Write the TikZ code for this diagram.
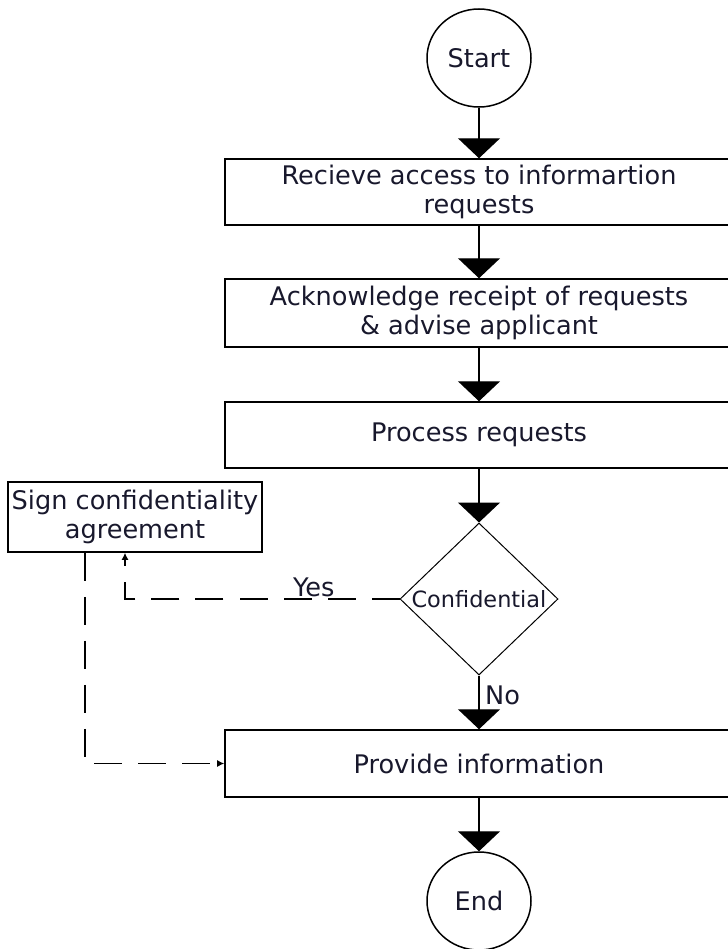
\documentclass[tikz,border=0pt]{standalone}
\usepackage{fontspec}
\setmainfont{DejaVu Sans}
\usetikzlibrary{arrows.meta,shapes.geometric}
\definecolor{ink}{RGB}{24,24,44}
\begin{document}
\begin{tikzpicture}[x=1bp,y=-1bp,
  font=\fontsize{25.6bp}{29bp}\selectfont,
  every node/.style={text=ink},
  proc/.style={draw, line width=1.5bp, minimum width=508bp, inner sep=0pt, align=center},
  term/.style={draw, ellipse, line width=1.5bp, minimum width=104bp, minimum height=98bp, inner sep=0pt},
  decide/.style={draw, diamond, line width=1bp, aspect=1.04, minimum width=158bp, minimum height=152bp, inner sep=0pt, font=\fontsize{22.4bp}{26bp}\selectfont},
  flow/.style={line width=1.3bp, -{Triangle[width=42bp,length=20bp]}},
  optional/.style={line width=1.5bp, dash pattern=on 28bp off 16bp, -{Latex[length=7bp,width=7bp]}}]
\useasboundingbox (0,0) rectangle (728,949);

% terminals
\node[term] (start) at (479,58) {Start};
\node[term] (end) at (479,901) {End};

% process steps
\node[proc, minimum height=66bp] (recv) at (479,192) {Recieve access to informartion\\requests};
\node[proc, minimum height=68bp] (ack) at (479,313) {Acknowledge receipt of requests\\\& advise applicant};
\node[proc, minimum height=66bp] (proc) at (479,435) {Process requests};
\node[decide] (conf) at (479,599) {Confidential};
\node[proc, minimum height=67bp] (provide) at (479,763.5) {Provide information};
\node[draw, line width=1.5bp, minimum width=254bp, minimum height=70bp, inner sep=0pt, align=center] (sign) at (135,517) {Sign confidentiality\\agreement};

% main flow
\draw[flow] (start) -- (recv);
\draw[flow] (recv) -- (ack);
\draw[flow] (ack) -- (proc);
\draw[flow] (proc) -- (conf);
\draw[flow] (conf) -- (provide);
\draw[flow] (provide) -- (end);

% branch labels
\node[anchor=base west, inner sep=0pt] (yes) at (293,596) {Yes};
\node[anchor=base west, inner sep=0pt] (no) at (485,704) {No};

% confidential branch
\draw[optional] (conf.west) -| ([xshift=-10bp]sign.south);
\draw[optional] ([xshift=-50bp]sign.south) |- (provide.west);
\end{tikzpicture}
\end{document}
